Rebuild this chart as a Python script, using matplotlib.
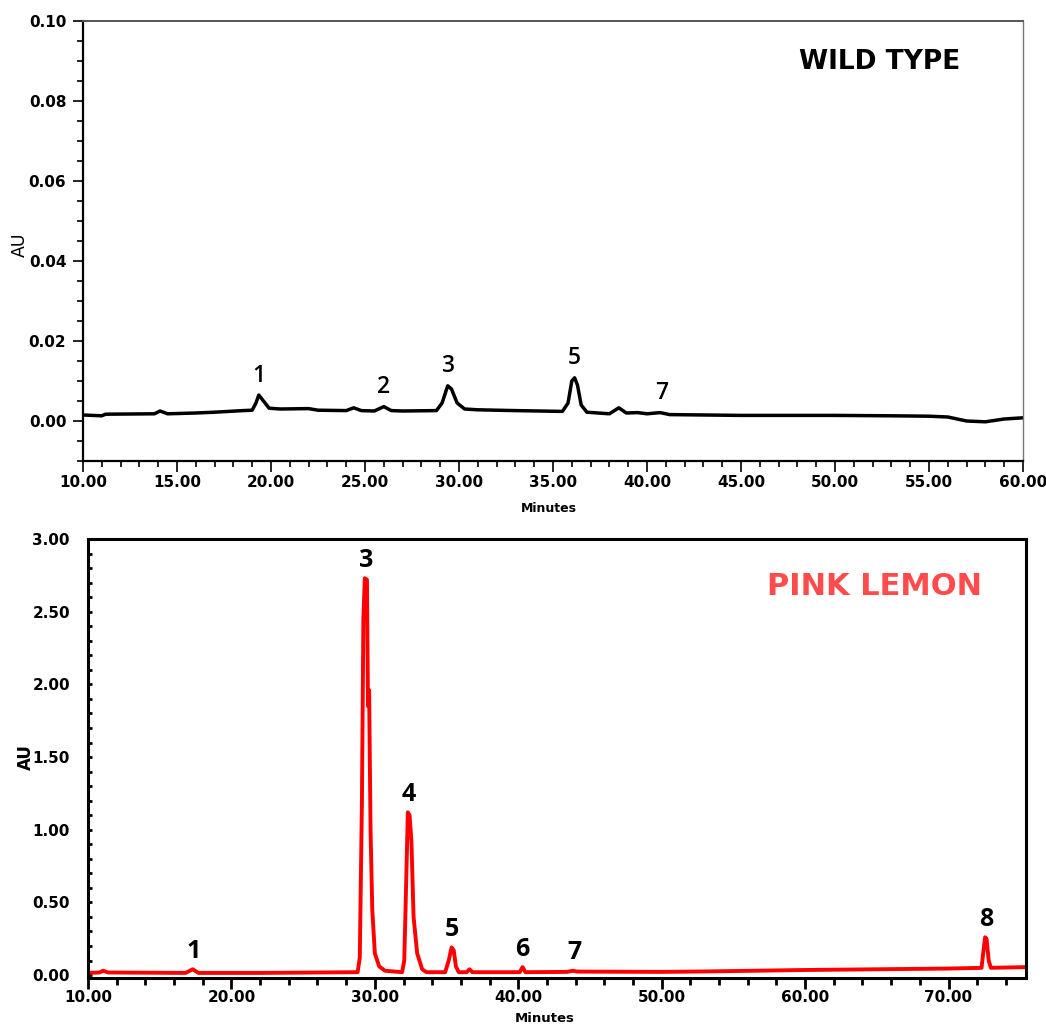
import matplotlib
matplotlib.use("Agg")
import matplotlib.pyplot as plt
from matplotlib.ticker import MultipleLocator, FormatStrFormatter

# wild type trace (minutes, AU)
wt_time = [10.0, 11.0, 11.2, 13.8, 14.1, 14.5, 16.0, 17.0, 18.5, 19.0,
           19.2, 19.35, 19.6, 19.9, 20.5, 22.0, 22.5, 24.0, 24.4, 24.8,
           25.5, 26.0, 26.4, 27.0, 28.8, 29.1, 29.4, 29.6, 29.9, 30.3,
           31.0, 33.0, 35.5, 35.8, 36.0, 36.15, 36.3, 36.5, 36.8, 38.0,
           38.5, 38.9, 39.5, 40.0, 40.7, 41.2, 45.0, 50.0, 53.0, 55.0,
           56.0, 57.0, 58.0, 59.0, 60.0]
wt_au = [0.0015, 0.0013, 0.0017, 0.0018, 0.0025, 0.0018, 0.0020, 0.0022, 0.0026, 0.0027,
         0.0045, 0.0065, 0.0050, 0.0032, 0.0030, 0.0031, 0.0027, 0.0026, 0.0033, 0.0026,
         0.0025, 0.0036, 0.0026, 0.0025, 0.0026, 0.0045, 0.0088, 0.0080, 0.0045, 0.0030,
         0.0028, 0.0026, 0.0024, 0.0045, 0.0100, 0.0108, 0.0090, 0.0040, 0.0022, 0.0018,
         0.0033, 0.0020, 0.0021, 0.0018, 0.0021, 0.0016, 0.0014, 0.0014, 0.0013, 0.0012,
         0.0010, 0.0000, -0.0002, 0.0005, 0.0008]

wt_peak_ids = ["1", "2", "3", "5", "7"]
wt_peak_time = [19.35, 26.0, 29.4, 36.15, 40.8]
wt_peak_au = [0.0065, 0.0036, 0.0088, 0.0108, 0.0021]

# pink lemon trace (minutes, AU)
pl_time = [10.0, 10.8, 11.05, 11.4, 16.8, 17.3, 17.7, 22.0, 28.8, 28.95,
           29.1, 29.2, 29.3, 29.45, 29.52, 29.6, 29.7, 29.82, 30.0, 30.3,
           30.7, 31.9, 32.05, 32.18, 32.3, 32.42, 32.55, 32.7, 32.95, 33.3,
           33.6, 34.9, 35.15, 35.35, 35.5, 35.65, 35.85, 36.4, 36.6, 36.8,
           40.1, 40.3, 40.5, 43.4, 43.8, 44.1, 50.0, 53.0, 60.0, 65.0,
           70.0, 72.3, 72.45, 72.55, 72.65, 72.8, 72.95, 75.4]
pl_au = [0.015, 0.018, 0.03, 0.018, 0.015, 0.04, 0.015, 0.015, 0.02, 0.12,
         1.2, 2.45, 2.73, 2.72, 1.85, 1.96, 1.0, 0.45, 0.15, 0.06,
         0.03, 0.02, 0.1, 0.62, 1.12, 1.1, 0.92, 0.4, 0.15, 0.04,
         0.02, 0.02, 0.1, 0.19, 0.17, 0.06, 0.02, 0.02, 0.04, 0.02,
         0.02, 0.055, 0.02, 0.022, 0.03, 0.024, 0.022, 0.025, 0.035, 0.04,
         0.045, 0.05, 0.18, 0.26, 0.25, 0.1, 0.05, 0.055]

pl_peak_ids = ["1", "3", "4", "5", "6", "7", "8"]
pl_peak_time = [17.4, 29.4, 32.35, 35.4, 40.3, 43.9, 72.6]
pl_peak_au = [0.04, 2.73, 1.12, 0.19, 0.055, 0.03, 0.26]

W, H = 1046, 1028
fig = plt.figure(figsize=(W / 100, H / 100), dpi=100)

tick_font = dict(family="DejaVu Sans", weight="bold", size=11)

# ---- top panel: wild type ----
ax1 = fig.add_axes([83 / W, 1 - 461 / H, 940 / W, 440 / H])
ax1.plot(wt_time, wt_au, color="black", lw=2.5, solid_joinstyle="round")
ax1.set_xlim(10, 60)
ax1.set_ylim(-0.01, 0.10)
ax1.xaxis.set_major_locator(MultipleLocator(5))
ax1.xaxis.set_minor_locator(MultipleLocator(1))
ax1.yaxis.set_major_locator(MultipleLocator(0.02))
ax1.yaxis.set_minor_locator(MultipleLocator(0.005))
ax1.xaxis.set_major_formatter(FormatStrFormatter("%.2f"))
ax1.yaxis.set_major_formatter(FormatStrFormatter("%.2f"))
ax1.tick_params(axis="y", which="major", direction="out", length=7, width=1.2, pad=5)
ax1.tick_params(axis="y", which="minor", direction="out", length=4, width=1.2)
ax1.tick_params(axis="x", which="major", direction="out", length=8, width=1.2, pad=2)
ax1.tick_params(axis="x", which="minor", direction="out", length=4, width=1.2)
for lab in ax1.get_xticklabels() + ax1.get_yticklabels():
    lab.set_fontproperties(tick_font)
ax1.spines["left"].set_linewidth(1.6)
ax1.spines["bottom"].set_linewidth(1.6)
ax1.spines["top"].set_color("#555555")
ax1.spines["top"].set_linewidth(1.4)
ax1.spines["right"].set_color("#777777")
ax1.spines["right"].set_linewidth(1.0)

for pid, t, a in zip(wt_peak_ids, wt_peak_time, wt_peak_au):
    ax1.annotate(pid, (t, a), xytext=(0, 14), textcoords="offset points",
                 ha="center", va="center", fontsize=16.5, fontweight="semibold",
                 family="Open Sans", color="black")

ax1.text(0.848, 0.907, "WILD TYPE", transform=ax1.transAxes, ha="center", va="center",
         fontsize=19, fontweight="bold", family="DejaVu Sans", color="black")
fig.text(20 / W, 1 - 245 / H, "AU", rotation=90, ha="center", va="center",
         fontsize=12.5, family="DejaVu Sans")
fig.text(549 / W, 1 - 508 / H, "Minutes", ha="center", va="center",
         fontsize=9, fontweight="bold", family="DejaVu Sans")

# ---- bottom panel: pink lemon ----
ax2 = fig.add_axes([88 / W, 1 - 978 / H, 938 / W, 439 / H])
ax2.plot(pl_time, pl_au, color="#ff0000", lw=2.8, solid_joinstyle="round")
ax2.set_xlim(10, 75.4)
ax2.set_ylim(-0.02, 3.0)
ax2.xaxis.set_major_locator(MultipleLocator(10))
ax2.xaxis.set_minor_locator(MultipleLocator(2))
ax2.yaxis.set_major_locator(MultipleLocator(0.5))
ax2.yaxis.set_minor_locator(MultipleLocator(0.1))
ax2.xaxis.set_major_formatter(FormatStrFormatter("%.2f"))
ax2.yaxis.set_major_formatter(FormatStrFormatter("%.2f"))
ax2.tick_params(axis="y", which="both", direction="in", length=3, width=2, pad=13)
ax2.tick_params(axis="x", which="major", direction="out", length=8, width=2, pad=1)
ax2.tick_params(axis="x", which="minor", direction="out", length=5, width=2)
for lab in ax2.get_xticklabels() + ax2.get_yticklabels():
    lab.set_fontproperties(tick_font)
for side in ["left", "bottom", "top", "right"]:
    ax2.spines[side].set_linewidth(2.2)
    ax2.spines[side].set_color("black")

for pid, t, a in zip(pl_peak_ids, pl_peak_time, pl_peak_au):
    ax2.annotate(pid, (t, a), xytext=(0, 13), textcoords="offset points",
                 ha="center", va="center", fontsize=18, fontweight="bold",
                 family="Open Sans", color="black")

ax2.text(0.839, 0.891, "PINK LEMON", transform=ax2.transAxes, ha="center", va="center",
         fontsize=22, fontweight="bold", family="DejaVu Sans", color="#ff4b4b")
fig.text(26 / W, 1 - 757 / H, "AU", rotation=90, ha="center", va="center",
         fontsize=12, fontweight="bold", family="DejaVu Sans")
fig.text(545 / W, 1 - 1019 / H, "Minutes", ha="center", va="center",
         fontsize=9.5, fontweight="bold", family="DejaVu Sans")

fig.savefig("out.png", dpi=100)
